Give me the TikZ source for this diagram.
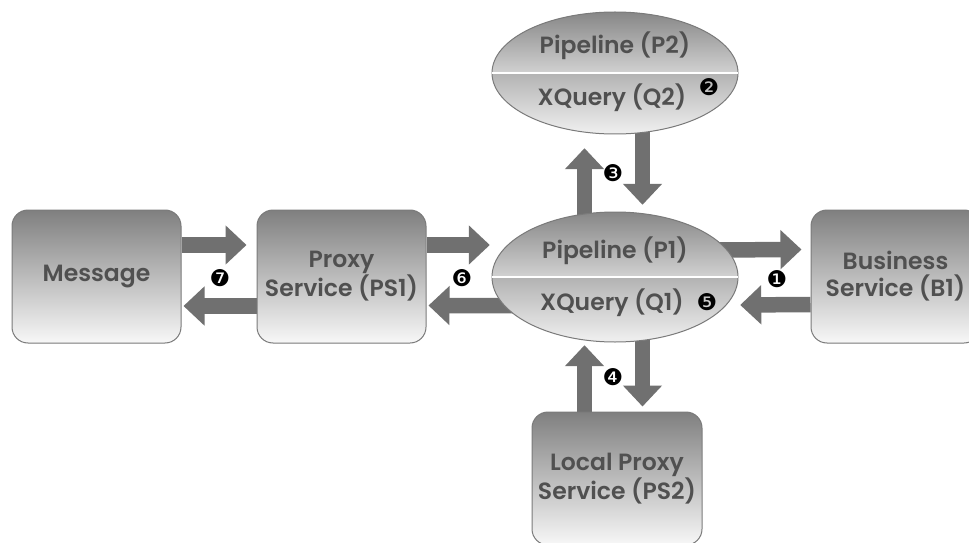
\documentclass[tikz,border=0pt]{standalone}
\usepackage{fontspec}
\setmainfont{Poppins}[UprightFont={* SemiBold}]
\newfontfamily\numfont{DejaVu Sans}
\usetikzlibrary{shapes.geometric,arrows.meta,backgrounds}
\definecolor{txt}{HTML}{505050}
\definecolor{arr}{HTML}{707070}
\definecolor{edge}{HTML}{7A7A7A}
\tikzset{
  box/.style={rectangle, rounded corners=16pt, draw=edge, line width=1pt,
    top color=black!50, bottom color=black!3, minimum width=169pt,
    minimum height=133pt, inner sep=0pt, align=center, text=txt,
    font=\fontsize{23.5}{27}\selectfont},
  ell/.style={ellipse, minimum width=246pt, inner sep=0pt},
  lbl/.style={text=txt, font=\fontsize{23.5}{27}\selectfont, inner sep=0pt},
  blk/.style={draw=arr, line width=15.5pt, -{Triangle[width=38pt,length=21pt]}},
  num/.style={inner sep=0pt, font=\numfont\fontsize{23}{23}\selectfont}
}
\begin{document}
\begin{tikzpicture}[x=1pt,y=1pt]
\clip (0,0) rectangle (969,542);
% boxes
\node[box] (msg) at (96.5,265.5) {Message};
\node[box] (ps1) at (341.5,265.5) {Proxy\\Service (PS1)};
\node[box] (b1) at (895.5,265.5) {Business\\Service (B1)};
\node[box, minimum width=170pt] (ps2) at (617,63.5) {Local Proxy\\Service (PS2)};
% ellipses
\node[ell, minimum height=130pt] (p1) at (615,265) {};
\node[ell, minimum height=122pt] (p2) at (615,469) {};
\foreach \e/\ry in {p1/65,p2/61}{
  \begin{scope}
    \clip (\e.center) ellipse [x radius=123, y radius=\ry];
    \shade[top color=black!48, bottom color=black!18] ([shift={(-125,\ry+2)}]\e.center) rectangle ([xshift=125]\e.center);
    \shade[top color=black!30, bottom color=black!5] ([xshift=-125]\e.center) rectangle ([shift={(125,-\ry-2)}]\e.center);
  \end{scope}
  \draw[edge, line width=1pt] (\e.center) ellipse [x radius=123, y radius=\ry];
  \draw[white, line width=1.8pt] (\e.west) -- (\e.east);
}
\node[lbl] (p1a) at (615,291) {Pipeline (P1)};
\node[lbl] (p1b) at (612,239) {XQuery (Q1)};
\node[lbl] (p2a) at (615,496) {Pipeline (P2)};
\node[lbl] (p2b) at (612,444) {XQuery (Q2)};
% numbers
\node[num] (n1) at (777,263) {❶};
\node[num] (n2) at (709,455) {❷};
\node[num] (n3) at (613,369) {❸};
\node[num] (n4) at (613,165) {❹};
\node[num] (n5) at (707,240) {❺};
\node[num] (n6) at (462,264) {❻};
\node[num] (n7) at (220,264) {❼};
% arrows
\begin{pgfonlayer}{background}
\fill[white] (0,0) rectangle (969,542);
\draw[blk] ([yshift=31.5]msg.east) -- ([xshift=-10,yshift=31.5]ps1.west);
\draw[blk] ([yshift=-29.5]ps1.west) -- ([xshift=2,yshift=-29.5]msg.east);
\draw[blk] ([yshift=31.5]ps1.east) -- ([xshift=-2,yshift=32]p1.west);
\draw[blk] ([yshift=-29]p1.center) -- ([xshift=2,yshift=-29]ps1.east);
\draw[blk] ([yshift=26.5]p1.center) -- ([xshift=-9,yshift=27]b1.west);
\draw[blk] ([yshift=-28]b1.west) -- ([xshift=2,yshift=-28]p1.east);
\draw[blk] ([xshift=-30.5]p1.center) -- ([xshift=-30.5,yshift=-14]p2.south);
\draw[blk] ([xshift=27.5]p2.center) -- ([xshift=27.5,yshift=7]p1.north);
\draw[blk] ([xshift=-32.5]ps2.north) -- ([xshift=-30.5,yshift=-3]p1.south);
\draw[blk] ([xshift=27.5]p1.center) -- ([xshift=25.5,yshift=5]ps2.north);
\end{pgfonlayer}
\end{tikzpicture}
\end{document}
